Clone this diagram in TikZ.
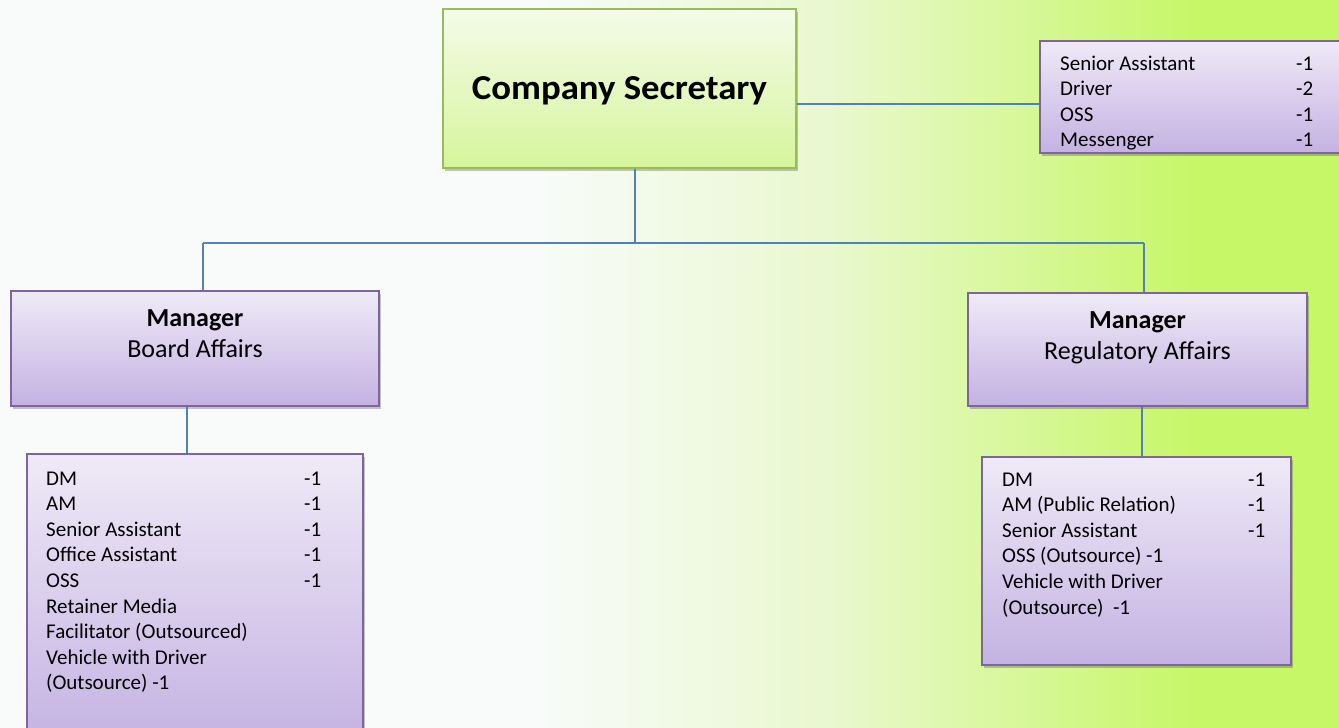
\documentclass[tikz,border=0pt]{standalone}
\usepackage{fontspec}
\setmainfont{Carlito}
\usetikzlibrary{shadows,calc}
\definecolor{bgw}{HTML}{F8FBF9}
\definecolor{bgm}{HTML}{E9F8CF}
\definecolor{bgl}{HTML}{C6F766}
\definecolor{conn}{HTML}{4F81BD}
\definecolor{gborder}{HTML}{9BBB59}
\definecolor{gtop}{HTML}{F4FBE8}
\definecolor{gbot}{HTML}{D6F59C}
\definecolor{pborder}{HTML}{8064A2}
\definecolor{ptop}{HTML}{EFEAF7}
\definecolor{pbot}{HTML}{C4B2E2}
\tikzset{
  shad/.style={drop shadow={shadow xshift=1.5pt, shadow yshift=-3pt, fill=black, opacity=0.22}},
  csbox/.style={shad, draw=gborder, line width=1.8pt, top color=gtop, bottom color=gbot,
    inner sep=0pt, font=\fontsize{35}{40}\selectfont\bfseries, text=black},
  pbox/.style={shad, draw=pborder, line width=2pt, top color=ptop, bottom color=pbot, inner sep=0pt},
  mgrtext/.style={anchor=base, inner sep=0pt, font=\fontsize{26}{31}\selectfont, text=black},
  listtext/.style={anchor=base west, inner sep=0pt, font=\fontsize{21}{25.6}\selectfont, text=black},
  link/.style={draw=conn, line width=1.4pt}
}
\begin{document}
\begin{tikzpicture}[x=1pt,y=-1pt]
\useasboundingbox (0,0) rectangle (1339,728);
% background
\fill[bgw] (0,0) rectangle (540,728);
\shade[left color=bgw, right color=bgm] (539.5,0) rectangle (830,728);
\shade[left color=bgm, right color=bgl] (829.5,0) rectangle (1200,728);
\fill[bgl] (1199.5,0) rectangle (1339,728);

% boxes
\node[csbox, minimum width=353pt, minimum height=159pt, text height=22pt, text depth=1pt] (cs) at (619.5,88.5) {\scalebox{1.05}[1]{Company Secretary}};
\node[pbox, minimum width=308pt, minimum height=112pt] (tr) at (1194,97) {};
\node[pbox, minimum width=368pt, minimum height=115pt] (bam) at (195,348.5) {};
\node[pbox, minimum width=339pt, minimum height=113pt] (ram) at (1137.5,349.5) {};
\node[pbox, minimum width=336pt, minimum height=290pt] (bal) at (195,599) {};
\node[pbox, minimum width=309pt, minimum height=208pt] (ral) at (1136.5,561) {};

% texts
\node[listtext] (trt) at (1060,70) {\begin{tabular}[t]{@{}p{236pt}@{}l@{}}
Senior Assistant & -1\\
Driver & -2\\
OSS & -1\\
Messenger & -1
\end{tabular}};
\node[mgrtext] (bamt) at (195,326) {\begin{tabular}[t]{@{}c@{}}\textbf{Manager}\\Board Affairs\end{tabular}};
\node[mgrtext] (ramt) at (1137.5,328) {\begin{tabular}[t]{@{}c@{}}\textbf{Manager}\\Regulatory Affairs\end{tabular}};
\node[listtext] (balt) at (46,485) {\begin{tabular}[t]{@{}p{258pt}@{}l@{}}
DM & -1\\
AM & -1\\
Senior Assistant & -1\\
Office Assistant & -1\\
OSS & -1\\
Retainer Media & \\
Facilitator (Outsourced) & \\
Vehicle with Driver & \\
(Outsource) -1 &
\end{tabular}};
\node[listtext] (ralt) at (1002,486) {\begin{tabular}[t]{@{}p{246pt}@{}l@{}}
DM & -1\\
AM (Public Relation) & -1\\
Senior Assistant & -1\\
OSS (Outsource) -1 & \\
Vehicle with Driver & \\
(Outsource)\ \ -1 &
\end{tabular}};

% connectors
\coordinate (bus) at (635,243);
\coordinate (busL) at (203,243);
\coordinate (busR) at (1144,243);
\draw[link] (cs.south -| bus) -- (bus);
\draw[link] (busL) -- (busR);
\draw[link] (busL) -- (busL |- bam.north);
\draw[link] (busR) -- (busR |- ram.north);
\draw[link] ([yshift=-15.5pt]cs.east) -- ([yshift=-15.5pt]cs.east -| tr.west);
\draw[link] ([xshift=-8pt]bam.south) -- ([xshift=-8pt]bam.south |- bal.north);
\draw[link] ([xshift=4.5pt]ram.south) -- ([xshift=4.5pt]ram.south |- ral.north);
\end{tikzpicture}
\end{document}
